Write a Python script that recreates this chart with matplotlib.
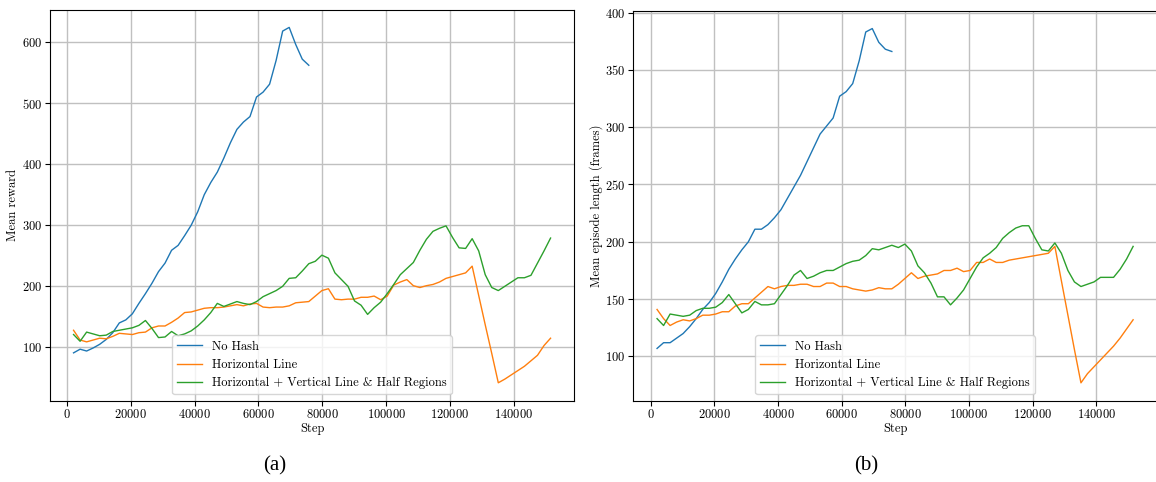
import numpy as np
import matplotlib
matplotlib.use("Agg")
import matplotlib.pyplot as plt

plt.rcParams["font.family"] = ["cmr10", "DejaVu Serif"]
plt.rcParams["axes.formatter.use_mathtext"] = True
plt.rcParams["mathtext.fontset"] = "cm"

STEP = 2048

# ---- mean reward (a) ----
reward_nohash = [91, 97, 94, 99, 105, 113, 124, 140, 145, 155, 172, 188, 205, 224, 238,
                 259, 267, 283, 300, 322, 350, 370, 387, 410, 435, 457, 469, 478, 510,
                 518, 531, 570, 618, 624, 596, 572, 562]
reward_hline = [128, 112, 109, 112, 115, 114, 118, 123, 122, 121, 124, 125, 132, 135, 135,
                141, 148, 157, 158, 161, 164, 165, 165, 166, 168, 170, 168, 171, 172, 166,
                165, 166, 166, 168, 173, 174, 175, 184, 193, 196, 179, 178, 179, 179, 182,
                182, 184, 178, 184, 202, 207, 211, 201, 198, 201, 203, 207, 213, 216, 219,
                222, 233, 185, 137, 90, 42, 48, 55, 62, 69, 78, 87, 103, 115]
reward_hvhalf = [121, 110, 125, 122, 119, 120, 126, 128, 130, 132, 136, 144, 131, 116, 117,
                 126, 119, 122, 127, 135, 145, 157, 172, 167, 171, 175, 172, 170, 175, 183,
                 188, 193, 200, 213, 214, 225, 237, 241, 251, 246, 222, 211, 200, 176, 169,
                 154, 165, 174, 188, 203, 219, 229, 239, 259, 277, 290, 295, 299, 280, 263,
                 262, 278, 258, 219, 198, 193, 200, 207, 214, 214, 218, 238, 258, 279]

# ---- mean episode length (b) ----
length_nohash = [107, 112, 112, 116, 120, 126, 133, 141, 147, 155, 165, 176, 185, 193, 200,
                 211, 211, 215, 221, 228, 238, 248, 258, 270, 282, 294, 301, 308, 327, 331,
                 338, 358, 383, 386, 374, 368, 366]
length_hline = [141, 133, 127, 130, 132, 131, 133, 136, 136, 137, 139, 139, 144, 146, 146,
                151, 156, 161, 159, 161, 162, 162, 163, 163, 161, 161, 164, 164, 161, 161,
                159, 158, 157, 158, 160, 159, 159, 163, 168, 173, 168, 170, 171, 172, 175,
                175, 177, 174, 175, 182, 182, 185, 182, 182, 184, 185, 186, 187, 188, 189,
                190, 196, 166, 136, 106, 77, 85, 91, 97, 103, 109, 116, 124, 132]
length_hvhalf = [133, 127, 137, 136, 135, 136, 140, 142, 142, 143, 147, 154, 146, 138, 141,
                 148, 145, 145, 146, 154, 162, 171, 175, 168, 170, 173, 175, 175, 178, 181,
                 183, 184, 188, 194, 193, 195, 197, 195, 198, 192, 179, 173, 164, 152, 152,
                 145, 151, 158, 168, 178, 186, 190, 195, 203, 208, 212, 214, 214, 203, 193,
                 192, 199, 190, 175, 165, 161, 163, 165, 169, 169, 169, 176, 185, 196]

labels = ["No Hash", "Horizontal Line", "Horizontal + Vertical Line & Half Regions"]


def steps(vals):
    return STEP * np.arange(1, len(vals) + 1)


def draw(ax, series, ylabel, yticks):
    for vals, lab in zip(series, labels):
        ax.plot(steps(vals), vals, lw=1.0, label=lab)
    ax.grid(True, color="#c0c0c0", lw=1.0)
    ax.set_axisbelow(True)
    ax.set_xlabel("Step", fontsize=9, labelpad=1)
    ax.set_ylabel(ylabel, fontsize=9, labelpad=2)
    ax.set_xticks(np.arange(0, 140001, 20000))
    ax.set_yticks(yticks)
    ax.tick_params(labelsize=9, length=3.5, pad=2)
    ax.ticklabel_format(useOffset=False, style="plain")
    ax.legend(loc="lower center", fontsize=9)


fig = plt.figure(figsize=(11.56, 4.82), dpi=100)
ax1 = fig.add_axes([0.043, 0.169, 0.4539, 0.811])
ax2 = fig.add_axes([0.5478, 0.169, 0.453, 0.8085])

draw(ax1, [reward_nohash, reward_hline, reward_hvhalf], "Mean reward",
     np.arange(100, 601, 100))
draw(ax2, [length_nohash, length_hline, length_hvhalf], "Mean episode length (frames)",
     np.arange(100, 401, 50))

fig.text(275 / 1156, 1 - 466 / 482, "(a)", ha="center", va="center",
         family="Liberation Serif", fontsize=15)
fig.text(866 / 1156, 1 - 466 / 482, "(b)", ha="center", va="center",
         family="Liberation Serif", fontsize=15)

fig.savefig("out.png", dpi=100)
